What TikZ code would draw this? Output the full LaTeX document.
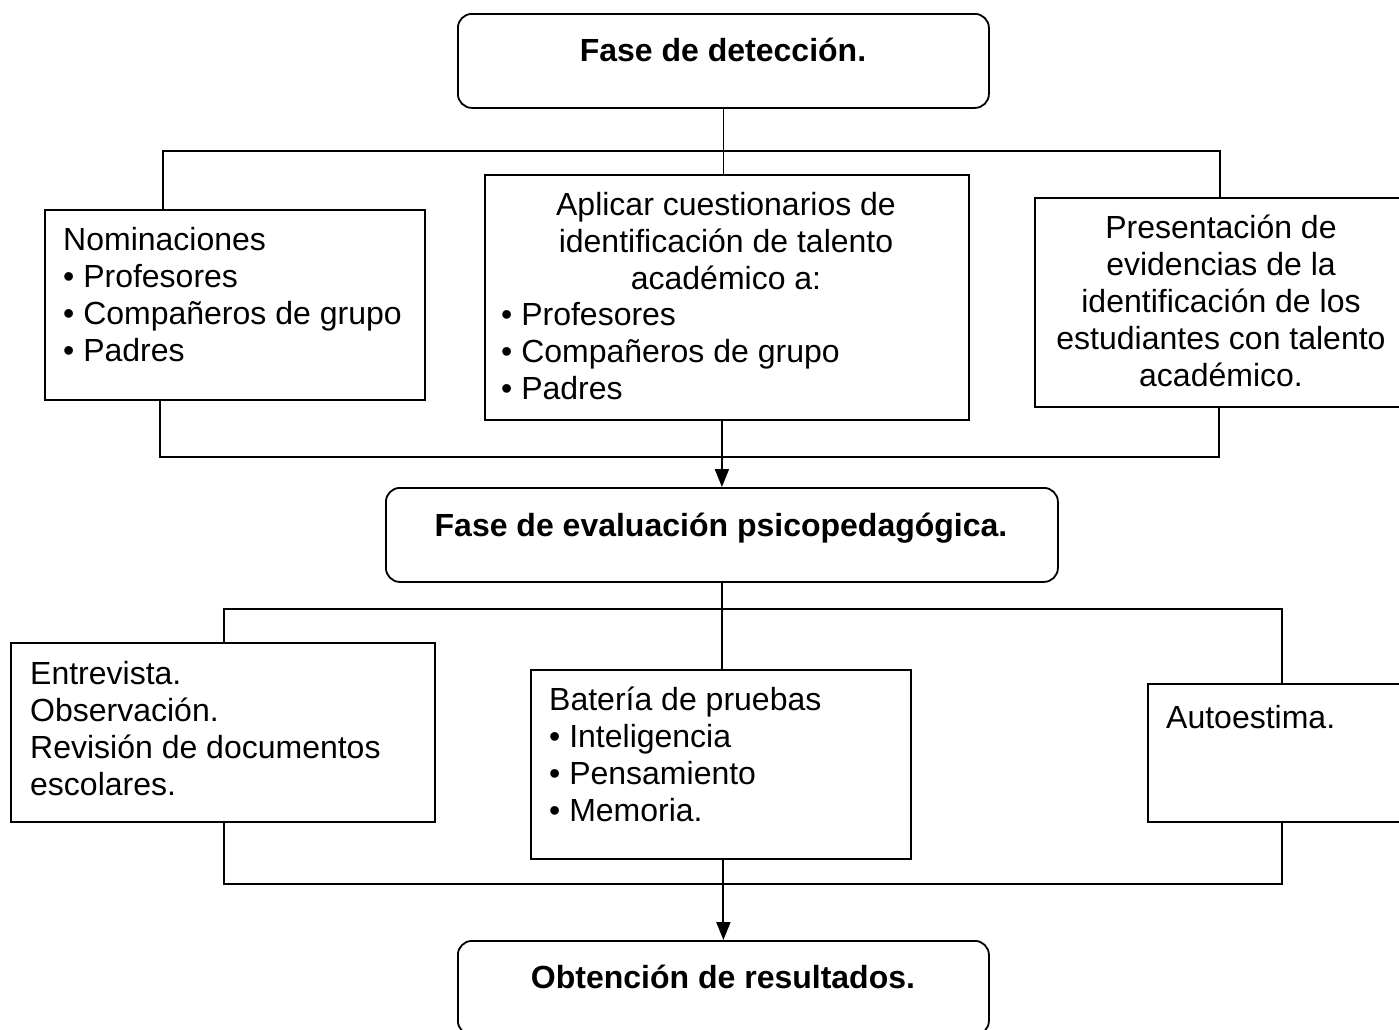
\documentclass[tikz,border=0pt]{standalone}
\usepackage{fontspec}
\setmainfont{Liberation Sans}
\usetikzlibrary{arrows.meta,positioning}
\tikzstyle{phase} = [draw,line width=1.8pt,rounded corners=14pt,inner sep=0,anchor=north west]
\tikzstyle{plain} = [draw,line width=1.8pt,inner sep=0,anchor=north west]
\tikzstyle{txt} = [inner sep=0,align=left,anchor=north west]
\tikzstyle{ctxt} = [inner sep=0,align=center,anchor=north]
\tikzstyle{title} = [ctxt,font=\bfseries]
\tikzstyle{link} = [-,line width=1.8pt]
\tikzstyle{flow} = [-{Triangle[length=18pt,width=14pt]},line width=2pt]
\newcommand{\boxstrut}{\rule{0pt}{30pt}}

\begin{document}
\fontsize{32}{37}\selectfont
\begin{tikzpicture}[x=1pt,y=-1pt]
      \useasboundingbox (0,0) rectangle (1399,1029);
      % boxes
      \node[phase,minimum width=531pt,minimum height=94pt] (det) at (457,13) {};
      \node[plain,minimum width=380pt,minimum height=190pt] (nom) at (44,209) {};
      \node[plain,minimum width=484pt,minimum height=245pt] (apl) at (484,174) {};
      \node[plain,minimum width=365pt,minimum height=209pt] (pres) at (1034,197) {};
      \node[phase,minimum width=672pt,minimum height=94pt] (eval) at (385,487) {};
      \node[plain,minimum width=424pt,minimum height=179pt] (ent) at (10,642) {};
      \node[plain,minimum width=380pt,minimum height=189pt] (bat) at (530,669) {};
      \node[plain,minimum width=252pt,minimum height=138pt] (auto) at (1147,683) {};
      \node[phase,minimum width=531pt,minimum height=94pt] (res) at (457,940) {};
      % texts
      \node[title] (dett) at (723,31.5) {\boxstrut Fase de detección.};
      \node[txt] (nomt) at (63,220.5) {\boxstrut Nominaciones\\• Profesores\\• Compañeros de grupo\\• Padres};
      \node[ctxt] (aplh) at (726,185.5) {\boxstrut Aplicar cuestionarios de\\identificación de talento\\académico a:};
      \node[txt] (apll) at (501,295.5) {\boxstrut • Profesores\\• Compañeros de grupo\\• Padres};
      \node[ctxt] (prest) at (1221,208.5) {\boxstrut Presentación de\\evidencias de la\\identificación de los\\estudiantes con talento\\académico.};
      \node[title] (evalt) at (721,506.5) {\boxstrut Fase de evaluación psicopedagógica.};
      \node[txt] (entt) at (30,654.5) {\boxstrut Entrevista.\\Observación.\\Revisión de documentos\\escolares.};
      \node[txt] (batt) at (549,680.5) {\boxstrut Batería de pruebas\\• Inteligencia\\• Pensamiento\\• Memoria.};
      \node[txt] (autot) at (1166,698.5) {\boxstrut Autoestima.};
      \node[title] (rest) at (723,958.5) {\boxstrut Obtención de resultados.};
      % bus corners
      \coordinate (busAL) at (163,151);
      \coordinate (busAR) at (1220,151);
      \coordinate (busBL) at (160,457);
      \coordinate (busBR) at (1219,457);
      \coordinate (busCL) at (224,609);
      \coordinate (busCR) at (1282,609);
      \coordinate (busDL) at (224,884);
      \coordinate (busDR) at (1282,884);
      % connectors
      \draw[link] (det.south) -- (det.south |- apl.north);
      \draw[link] (nom.north -| busAL) -- (busAL) -- (busAR) -- (pres.north -| busAR);
      \draw[link] (nom.south -| busBL) -- (busBL) -- (busBR) -- (pres.south -| busBR);
      \draw[flow] (apl.south -| eval.north) -- (eval.north);
      \draw[link] (eval.south) -- (eval.south |- bat.north);
      \draw[link] (ent.north -| busCL) -- (busCL) -- (busCR) -- (auto.north -| busCR);
      \draw[link] (ent.south -| busDL) -- (busDL) -- (busDR) -- (auto.south -| busDR);
      \draw[flow] (bat.south -| res.north) -- (res.north);
    \end{tikzpicture}
\end{document}
